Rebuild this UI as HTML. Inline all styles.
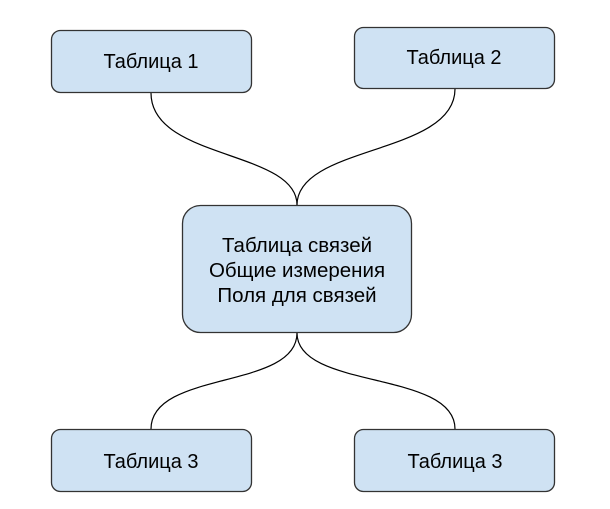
<!DOCTYPE html>
<html><head><meta charset="utf-8"><style>
html,body{margin:0;padding:0;background:#fff;}
svg{display:block;}
text{font-family:"Liberation Sans",Arial,sans-serif;fill:#000;}
</style></head><body>
<svg width="610" height="509" viewBox="0 0 610 509" xmlns="http://www.w3.org/2000/svg">
<g fill="none" stroke="#000" stroke-width="1.2">
<path d="M151,93 C151,160 297,150 297,205"/>
<path d="M455,89 C455,155 297,145 297,205"/>
<path d="M297,333 C297,390 151,370 151,429"/>
<path d="M297,333 C297,390 455,370 455,429"/>
</g>
<g fill="#cfe2f3" stroke="#333" stroke-width="1.3">
<rect x="51.5" y="30.5" width="200" height="62" rx="9"/>
<rect x="354.5" y="27.5" width="200" height="61" rx="9"/>
<rect x="182.5" y="205.5" width="229" height="127" rx="18"/>
<rect x="51.5" y="429.5" width="200" height="62" rx="9"/>
<rect x="354.5" y="429.5" width="200" height="62" rx="9"/>
</g>
<g font-size="20" text-anchor="middle">
<text x="151" y="68">Таблица 1</text>
<text x="454" y="64">Таблица 2</text>
<text x="151" y="468">Таблица 3</text>
<text x="455" y="468">Таблица 3</text>
</g>
<g font-size="20.5" text-anchor="middle">
<text x="297" y="252">Таблица связей</text>
<text x="297" y="277">Общие измерения</text>
<text x="297" y="302">Поля для связей</text>
</g>
</svg>
</body></html>
